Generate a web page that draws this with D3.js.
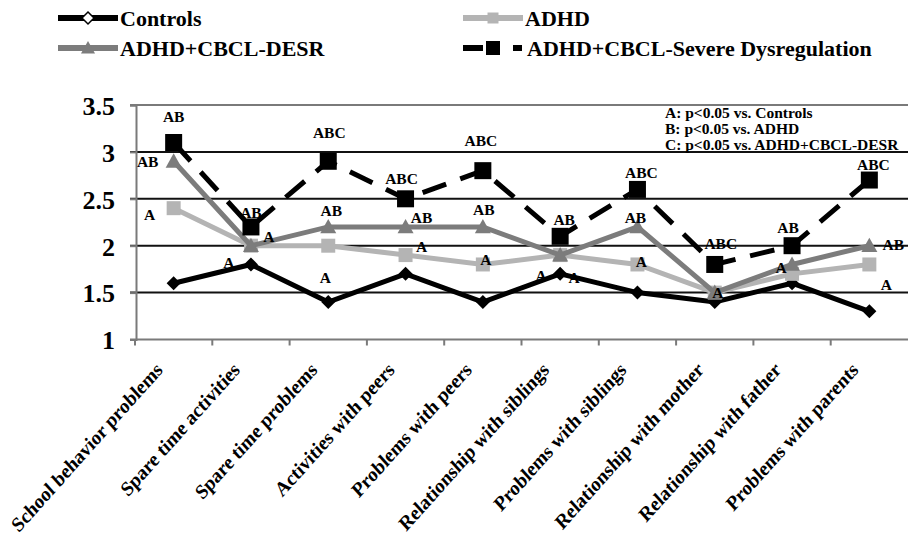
<!DOCTYPE html>
<html>
<head>
<meta charset="utf-8">
<script src="https://cdn.jsdelivr.net/npm/d3@7/dist/d3.min.js"></script>
<style>
  html, body { margin: 0; padding: 0; background: #fff; }
  svg { display: block; }
  text { font-family: "Liberation Serif", "Times New Roman", serif; font-weight: bold; fill: #000; }
</style>
</head>
<body>
<svg id="chart" width="908" height="540"></svg>
<script>
// Domains rated by each group (mean scores)
const categories = [
  "School behavior problems", "Spare time activities", "Spare time problems",
  "Activities with peers", "Problems with peers", "Relationship with siblings",
  "Problems with siblings", "Relationship with mother", "Relationship with father",
  "Problems with parents"
];
const seriesNames = ["Controls", "ADHD", "ADHD+CBCL-DESR", "ADHD+CBCL-Severe Dysregulation"];
const controlsValues = [1.6, 1.8, 1.4, 1.7, 1.4, 1.7, 1.5, 1.4, 1.6, 1.3];
const adhdValues     = [2.4, 2.0, 2.0, 1.9, 1.8, 1.9, 1.8, 1.5, 1.7, 1.8];
const desrValues     = [2.9, 2.0, 2.2, 2.2, 2.2, 1.9, 2.2, 1.5, 1.8, 2.0];
const severeValues   = [3.1, 2.2, 2.9, 2.5, 2.8, 2.1, 2.6, 1.8, 2.0, 2.7];
const yTickValues = [1, 1.5, 2, 2.5, 3, 3.5];

// Significance letters per point (null = none)
const controlsSig = [null, null, null, null, null, null, null, null, null, null];
const adhdSig     = ["A", "A", "A", "A", "A", "A", "A", "A", null, "A"];
const desrSig     = ["AB", "A", "AB", "AB", "AB", "A", "AB", null, "A", "AB"];
const severeSig   = ["AB", "AB", "ABC", "ABC", "ABC", "AB", "ABC", "ABC", "AB", "ABC"];
const footnotes = ["A: p<0.05 vs. Controls", "B: p<0.05 vs. ADHD", "C: p<0.05 vs. ADHD+CBCL-DESR"];

// Placement of the significance letters relative to their point [dx, dy]
const adhdLabelPos   = [[-24, 6], [-22, 17], [-3, 32], [16, -9], [3, -5], [-19, 20], [4, -3], [3, 0], [0, 0], [17, 20]];
const desrLabelPos   = [[-26, 0], [18, -9], [3, -17], [16, -10], [1, -18], [14, 22], [-2, -10], [0, 0], [-11, 3], [24, -1]];
const severeLabelPos = [[0, -26], [0, -15], [1, -29], [-4, -20], [-2, -30], [4, -17], [4, -17], [6, -21], [-4, -18], [4, -16]];

const svg = d3.select("#chart");
const W = 908;
const x = d3.scaleBand().domain(categories).range([135, 908]);
const y = d3.scaleLinear().domain([1, 3.5]).range([339.5, 105]);
const cx = c => x(c) + x.bandwidth() / 2;

const GRID = "#111", AXIS = "#7a7a7a";

// horizontal gridlines (tick extends left of axis)
svg.append("g").selectAll("line").data(yTickValues.filter(v => v > 1)).join("line")
  .attr("x1", 130).attr("x2", W).attr("y1", d => y(d)).attr("y2", d => y(d))
  .attr("stroke", d => d === 3.5 ? AXIS : GRID).attr("stroke-width", 2);

// y axis
const yAxis = svg.append("g").attr("transform", "translate(136,0)")
  .call(d3.axisLeft(y).tickValues(yTickValues).tickSize(6).tickFormat(d3.format("")));
yAxis.select(".domain").attr("stroke", AXIS).attr("stroke-width", 2);
yAxis.selectAll(".tick line").attr("stroke", AXIS).attr("stroke-width", 2);
yAxis.selectAll(".tick text").attr("x", -21).attr("dy", "0.36em")
  .style("font-size", "26px").style("font-family", "Liberation Serif, serif").style("font-weight", "bold");

// x axis with ticks between categories
const xAxisG = svg.append("g").attr("transform", `translate(0,${y(1)})`);
xAxisG.append("line").attr("x1", 130).attr("x2", W).attr("stroke", AXIS).attr("stroke-width", 2);
xAxisG.selectAll("line.tk").data(categories).join("line").attr("class", "tk")
  .attr("x1", d => x(d)).attr("x2", d => x(d)).attr("y1", 0).attr("y2", 6)
  .attr("stroke", AXIS).attr("stroke-width", 2);

// rotated category labels
svg.append("g").selectAll("text").data(categories).join("text")
  .attr("transform", d => `translate(${cx(d) - 10},${371}) scale(1,1.12) rotate(-45)`)
  .attr("text-anchor", "end")
  .style("font-size", "18.5px")
  .text(d => d);

// series definitions
const series = [
  { name: seriesNames[0], values: controlsValues, sig: controlsSig, pos: null, color: "#000", dash: null, marker: "diamond", size: 14 },
  { name: seriesNames[1], values: adhdValues, sig: adhdSig, pos: adhdLabelPos, color: "#b4b4b4", dash: null, marker: "square", size: 14 },
  { name: seriesNames[2], values: desrValues, sig: desrSig, pos: desrLabelPos, color: "#7c7c7c", dash: null, marker: "triangle", size: 16 },
  { name: seriesNames[3], values: severeValues, sig: severeSig, pos: severeLabelPos, color: "#000", dash: "25,15", marker: "square", size: 17 }
];

const line = d3.line().x((d, i) => cx(categories[i])).y(d => y(d));

function markerPath(type, s) {
  const h = s / 2;
  if (type === "diamond") return `M0,${-h}L${h},0L0,${h}L${-h},0Z`;
  if (type === "triangle") return `M0,${-h}L${h},${h * 0.8}L${-h},${h * 0.8}Z`;
  return `M${-h},${-h}H${h}V${h}H${-h}Z`;
}

series.forEach(s => {
  const g = svg.append("g");
  g.append("path").datum(s.values).attr("d", line)
    .attr("fill", "none").attr("stroke", s.color).attr("stroke-width", 5)
    .attr("stroke-dasharray", s.dash);
  g.selectAll("path.mk").data(s.values).join("path").attr("class", "mk")
    .attr("transform", (d, i) => `translate(${cx(categories[i])},${y(d)})`)
    .attr("d", markerPath(s.marker, s.size)).attr("fill", s.color);
});

// significance letters
series.forEach(s => {
  if (!s.pos) return;
  svg.append("g").selectAll("text").data(s.values.map((v, i) => ({ v, i, t: s.sig[i] })).filter(d => d.t))
    .join("text")
    .attr("x", d => cx(categories[d.i]) + s.pos[d.i][0])
    .attr("y", d => y(d.v) + s.pos[d.i][1])
    .attr("dy", "0.36em").attr("text-anchor", "middle")
    .style("font-size", "15.5px")
    .text(d => d.t);
});

// footnote block
svg.append("g").selectAll("text").data(footnotes).join("text")
  .attr("x", 665).attr("y", (d, i) => 118 + i * 16)
  .style("font-size", "15.5px")
  .text(d => d);

// legend
const legendItems = [
  { name: seriesNames[0], x: 58, y: 18, color: "#000", marker: "diamond", fill: "#fff", size: 12, dashed: false },
  { name: seriesNames[1], x: 463, y: 18, color: "#b4b4b4", marker: "square", fill: "#b4b4b4", size: 11, dashed: false },
  { name: seriesNames[2], x: 58, y: 48, color: "#7c7c7c", marker: "triangle", fill: "#7c7c7c", size: 14, dashed: false },
  { name: seriesNames[3], x: 463, y: 48, color: "#000", marker: "square", fill: "#000", size: 14, dashed: true }
];
const lg = svg.append("g");
legendItems.forEach(it => {
  const g = lg.append("g").attr("transform", `translate(${it.x},${it.y})`);
  if (it.dashed) {
    g.append("line").attr("x1", 0).attr("x2", 20).attr("stroke", it.color).attr("stroke-width", 6);
    g.append("line").attr("x1", 50).attr("x2", 59).attr("stroke", it.color).attr("stroke-width", 6);
  } else {
    g.append("line").attr("x1", 0).attr("x2", 60).attr("stroke", it.color).attr("stroke-width", 6);
  }
  g.append("path").attr("transform", "translate(30,0)")
    .attr("d", markerPath(it.marker, it.size))
    .attr("fill", it.fill).attr("stroke", it.marker === "diamond" ? "#000" : "none").attr("stroke-width", 1.5);
  g.append("text").attr("x", it.dashed ? 64 : 62).attr("y", 0).attr("dy", "0.36em")
    .style("font-size", "22px").text(it.name);
});
</script>
</body>
</html>
